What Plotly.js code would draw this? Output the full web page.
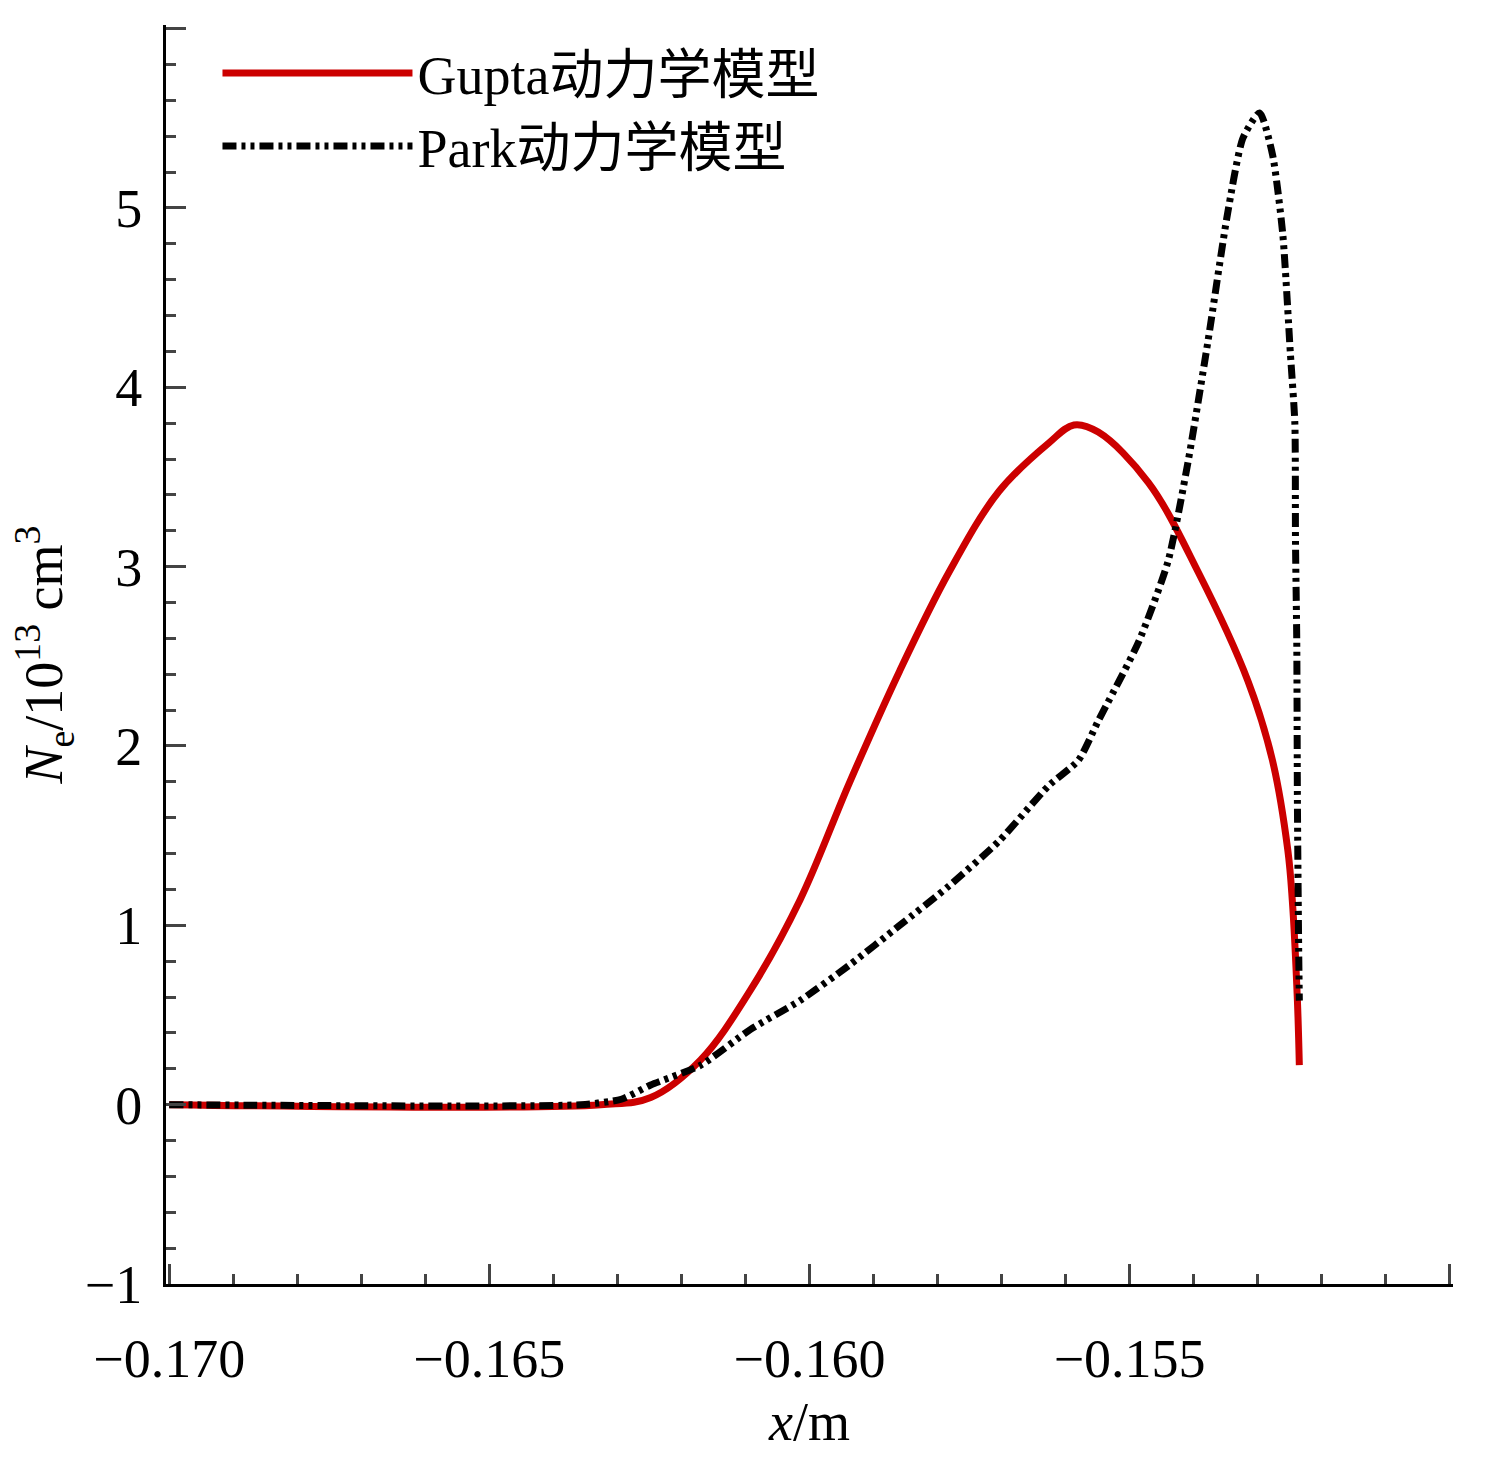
<!DOCTYPE html>
<html>
<head>
<meta charset="utf-8">
<script src="https://cdn.plot.ly/plotly-3.0.1.min.js"></script>
<style>body{margin:0;background:#fff}</style>
</head>
<body>
<div id="chart" style="width:1498px;height:1460px"></div>
<script>
// values
var guptaX = [-0.170, -0.16326, -0.16248, -0.16170, -0.16092, -0.16015, -0.15937, -0.15859, -0.15782, -0.15704, -0.15626, -0.15587, -0.15549, -0.15471, -0.15393, -0.15315, -0.15277, -0.15253, -0.15246, -0.15238, -0.15235];
var guptaY = [0, 0, 0.04, 0.25, 0.64, 1.14, 1.80, 2.42, 2.97, 3.42, 3.69, 3.79, 3.75, 3.47, 2.97, 2.36, 1.92, 1.42, 1.14, 0.58, 0.22];

var parkX = [-0.170, -0.16357, -0.16294, -0.16248, -0.16170, -0.16092, -0.16015, -0.15937, -0.15859, -0.15782, -0.15704, -0.15626, -0.15580, -0.15549, -0.15486, -0.15440, -0.15409, -0.15378, -0.15347, -0.15323, -0.15297, -0.15277, -0.15261, -0.15249, -0.15242, -0.15241, -0.15239, -0.15238, -0.15236, -0.15235];
var parkY = [0, 0, 0.03, 0.11, 0.22, 0.42, 0.58, 0.78, 1.00, 1.22, 1.47, 1.78, 1.92, 2.14, 2.58, 3.03, 3.58, 4.25, 4.97, 5.39, 5.53, 5.30, 4.86, 4.19, 3.80, 3.14, 2.58, 1.69, 0.86, 0.58];

var seriesNames = ['Gupta动力学模型', 'Park动力学模型'];

var serif = 'Liberation Serif, Times New Roman, Noto Sans CJK SC, serif';

var traces = [
  {x: guptaX, y: guptaY, name: seriesNames[0], mode: 'lines', type: 'scatter',
   line: {color: '#cc0000', width: 7, shape: 'spline', smoothing: 1}},
  {x: parkX, y: parkY, name: seriesNames[1], mode: 'lines', type: 'scatter',
   line: {color: '#000000', width: 7, dash: '14px,5px,4px,5px,4px,5px', shape: 'spline', smoothing: 0.6}}
];

var layout = {
  width: 1498, height: 1460,
  margin: {l: 166, r: 45, t: 25, b: 176},
  paper_bgcolor: '#fff', plot_bgcolor: '#fff',
  font: {family: serif, size: 54, color: '#000'},
  showlegend: true,
  legend: {x: 0.04, y: 0.995, xanchor: 'left', yanchor: 'top', bgcolor: 'rgba(0,0,0,0)',
           font: {size: 54, family: serif}, itemwidth: 190, tracegroupgap: 0},
  xaxis: {
    range: [-0.17005, -0.14995], tickvals: [-0.170, -0.165, -0.160, -0.155, -0.150],
    tickformat: '.3f', ticks: 'inside', ticklen: 20, tickwidth: 3,
    minor: {dtick: 0.001, tick0: -0.170, ticks: 'inside', ticklen: 10, tickwidth: 3},
    showline: true, linewidth: 3, linecolor: '#000', showgrid: false, zeroline: false,
    ticklabelstandoff: 25,
    tickfont: {size: 54}, title: {text: '<i>x</i>/m', font: {size: 54}, standoff: 15}
  },
  yaxis: {
    range: [-1, 6.02], dtick: 1, ticks: 'inside', ticklen: 20, tickwidth: 3,
    minor: {dtick: 0.2, ticks: 'inside', ticklen: 10, tickwidth: 3},
    showline: true, linewidth: 3, linecolor: '#000', showgrid: false, zeroline: false,
    tickfont: {size: 54}, ticklabelstandoff: 10,
    title: {text: '<i>N</i><sub>e</sub>/10<sup>13</sup> cm<sup>3</sup>', font: {size: 54}, standoff: 5}
  }
};

Plotly.newPlot('chart', traces, layout, {displayModeBar: false, staticPlot: true});
</script>
</body>
</html>
